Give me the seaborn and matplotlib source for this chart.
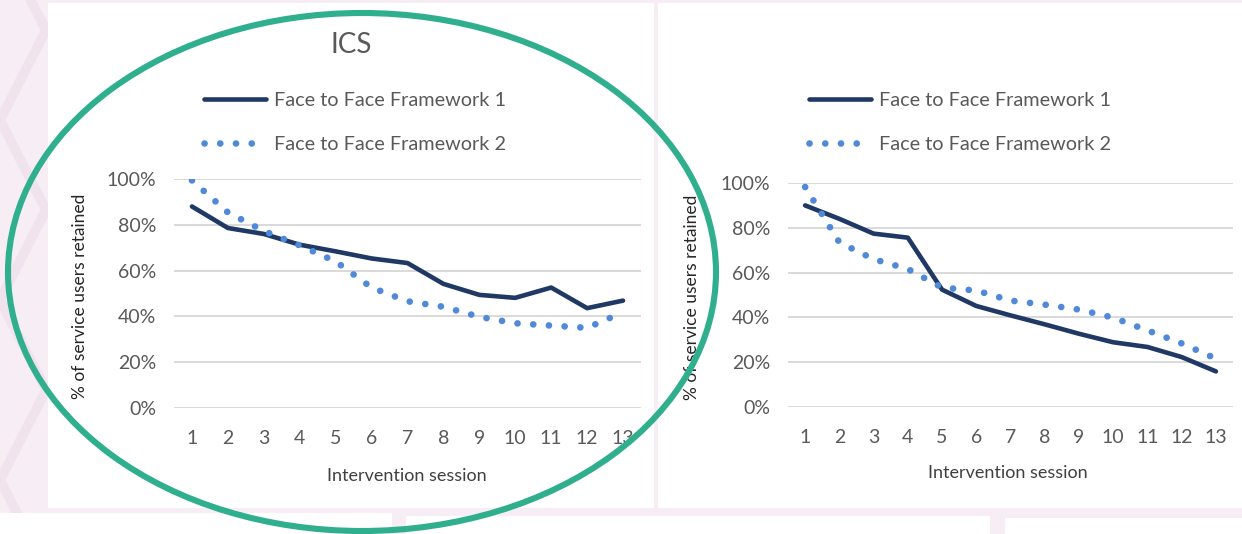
import matplotlib
matplotlib.use("Agg")
import matplotlib.pyplot as plt
import matplotlib.patches as mpatches
import matplotlib.lines as mlines
import pandas as pd
import seaborn as sns

# data (share of service users retained)
sessions = list(range(1, 14))
ics_f2f_fw1 = [0.88, 0.786, 0.76, 0.713, 0.684, 0.653, 0.633, 0.542, 0.494, 0.481, 0.526, 0.436, 0.469]
ics_f2f_fw2 = [0.994, 0.854, 0.773, 0.71, 0.64, 0.526, 0.466, 0.442, 0.398, 0.37, 0.36, 0.35, 0.418]
other_f2f_fw1 = [0.90, 0.84, 0.774, 0.756, 0.524, 0.451, 0.409, 0.369, 0.327, 0.289, 0.268, 0.223, 0.159]
other_f2f_fw2 = [0.982, 0.735, 0.66, 0.616, 0.533, 0.52, 0.475, 0.457, 0.435, 0.399, 0.342, 0.284, 0.216]
series_names = ["Face to Face Framework 1", "Face to Face Framework 2"]
y_ticks = [0, 0.2, 0.4, 0.6, 0.8, 1.0]
y_tick_labels = ["0%", "20%", "40%", "60%", "80%", "100%"]
title_left = "ICS"
x_title = "Intervention session"
y_title = "% of service users retained"

W, H = 1242, 534
navy = "#1F3864"
blue = "#4F89D8"
grey_txt = "#595959"

sns.set_theme(style="white")
plt.rcParams['font.family'] = ['Lato', 'DejaVu Sans']

fig = plt.figure(figsize=(W / 100, H / 100), dpi=100)
fig.patch.set_facecolor("#F6EEF4")


def rect(x0, y0, x1, y1, color="white", z=0):
    # pixel box with top-left origin -> figure patch
    fig.add_artist(mpatches.Rectangle((x0 / W, 1 - y1 / H), (x1 - x0) / W, (y1 - y0) / H,
                                      transform=fig.transFigure, facecolor=color,
                                      edgecolor="none", zorder=z))


# faint chevron pattern on the slide background
for y0 in [-60, 120, 300, 480]:
    fig.add_artist(mlines.Line2D([0 / W, 46 / W, 0 / W],
                                 [1 - y0 / H, 1 - (y0 + 90) / H, 1 - (y0 + 180) / H],
                                 transform=fig.transFigure, color="#F1E3EE", lw=7, zorder=0))

# white chart panels
rect(48, 3, 654, 508)
rect(658, 3, 1242, 508)
rect(0, 513, 392, 534)
rect(406, 516, 990, 534)
rect(1005, 518, 1242, 534)


def make_axes(x0, y0, x1, y1):
    ax = fig.add_axes([x0 / W, 1 - y1 / H, (x1 - x0) / W, (y1 - y0) / H])
    ax.patch.set_alpha(0)
    return ax


def draw_panel(ax, fw1, fw2, legend_xy, xlab_xy, ylab_xy):
    df1 = pd.DataFrame({"session": sessions, "retained": fw1})
    df2 = pd.DataFrame({"session": sessions, "retained": fw2})
    sns.lineplot(data=df1, x="session", y="retained", ax=ax, color=navy, lw=3.3,
                 solid_capstyle="round", solid_joinstyle="round", label=series_names[0], zorder=3)
    sns.lineplot(data=df2, x="session", y="retained", ax=ax, color=blue, lw=4.8,
                 linestyle=(0, (0.01, 2.35)), dash_capstyle="round", label=series_names[1], zorder=4)
    ax.set_xlim(0.5, 13.5)
    ax.set_ylim(0, 1.0)
    ax.set_xticks(sessions)
    ax.set_xticklabels([str(s) for s in sessions])
    ax.set_yticks(y_ticks)
    ax.set_yticklabels(y_tick_labels)
    ax.grid(axis="y", color="#D9D9D9", lw=1.4)
    ax.grid(axis="x", visible=False)
    for s in ax.spines.values():
        s.set_visible(False)
    ax.tick_params(axis="y", length=0, pad=13, labelsize=14, labelcolor=grey_txt)
    ax.tick_params(axis="x", length=0, pad=16, labelsize=14, labelcolor=grey_txt)
    ax.set_xlabel(x_title, fontsize=13, color="#404040")
    ax.set_ylabel(y_title, fontsize=12.5, color="#262626")
    ax.xaxis.set_label_coords(*xlab_xy)
    ax.yaxis.set_label_coords(*ylab_xy)
    leg = ax.legend(loc="upper left", bbox_to_anchor=(legend_xy[0] / W, 1 - legend_xy[1] / H),
                    bbox_transform=fig.transFigure, frameon=False, fontsize=14.3,
                    handlelength=3.1, handletextpad=0.4, labelspacing=1.35,
                    borderpad=0, borderaxespad=0, labelcolor=grey_txt)
    return leg


ax_l = make_axes(174, 179, 641, 408)
draw_panel(ax_l, ics_f2f_fw1, ics_f2f_fw2, (204, 92), (0.499, -0.262), (-0.184, 0.489))
fig.text(351 / W, 1 - 45 / H, title_left, ha="center", va="center", fontsize=20, color=grey_txt)

ax_r = make_axes(788, 183, 1233, 407)
draw_panel(ax_r, other_f2f_fw1, other_f2f_fw2, (809, 92), (0.494, -0.259), (-0.198, 0.49))

# green highlight ellipse round the left chart
fig.add_artist(mpatches.Ellipse((362 / W, 1 - 272 / H), 708 / W, 518 / H,
                                transform=fig.transFigure, fill=False,
                                edgecolor="#2FAF8E", lw=4.4, zorder=10))

fig.savefig("out.png", dpi=100, facecolor=fig.get_facecolor())
